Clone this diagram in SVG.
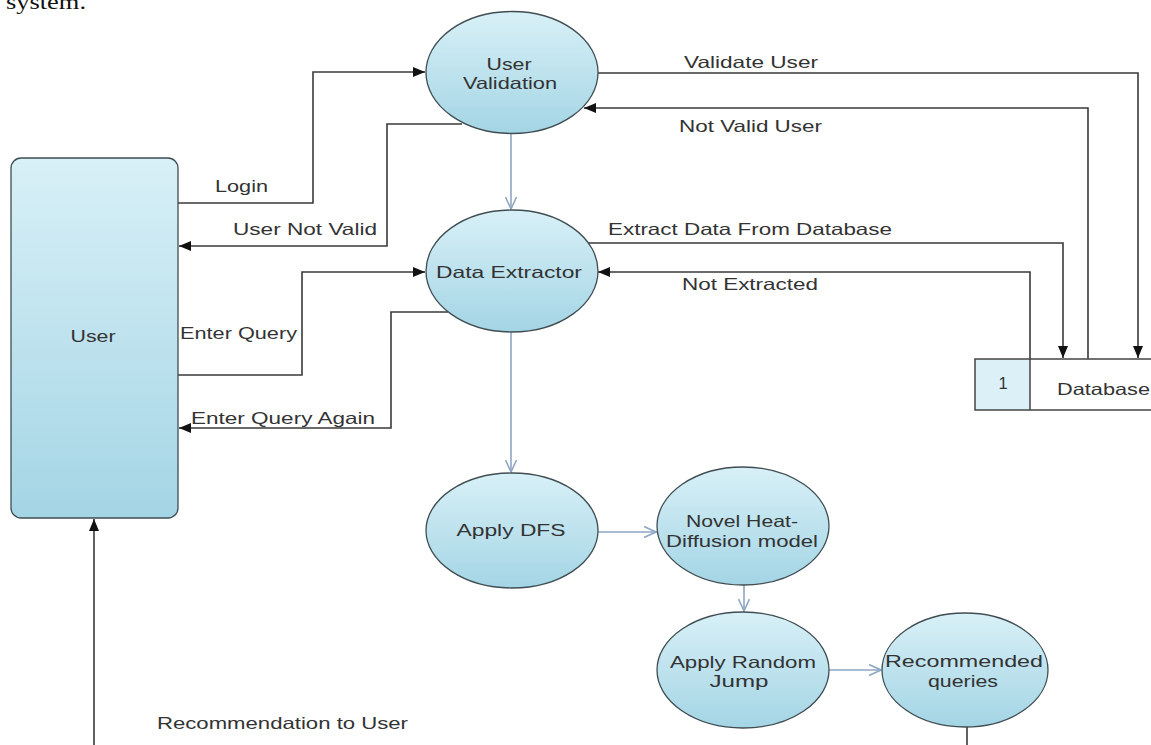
<svg xmlns="http://www.w3.org/2000/svg" width="1151" height="745" viewBox="0 0 1151 745">
  <style>
    .proc { fill: url(#nodeFill); stroke: #3f4d52; stroke-width: 1.3; }
    .lbl { font-family: "Liberation Sans", Arial, sans-serif; font-size: 16.5px; fill: #333; }
    .mid { text-anchor: middle; }
    .flow { fill: none; stroke: #3a3a3a; stroke-width: 1.6; }
    .inner { fill: none; stroke: #8ea6c4; stroke-width: 1.6; }
    .store { fill: none; stroke: #444; stroke-width: 1.5; }
  </style>
  <defs>
    <linearGradient id="nodeFill" x1="0" y1="0" x2="0" y2="1">
      <stop offset="0" stop-color="#d8f0f7"/>
      <stop offset="1" stop-color="#a4d5e5"/>
    </linearGradient>
    <marker id="solid" viewBox="0 0 12 10" refX="12" refY="5" markerWidth="12" markerHeight="10" markerUnits="userSpaceOnUse" orient="auto">
      <path d="M0,0 L12,5 L0,10 Z" fill="#111"/>
    </marker>
    <marker id="open" viewBox="0 0 14 12" refX="13" refY="6" markerWidth="14" markerHeight="12" markerUnits="userSpaceOnUse" orient="auto">
      <path d="M1,0.5 L13,6 L1,11.5" fill="none" stroke="#8ea6c4" stroke-width="1.6"/>
    </marker>
  </defs>

  <rect width="1151" height="745" fill="#fff"/>

  <!-- running text above the figure -->
  <text x="6" y="9" font-family="'Liberation Serif', 'Times New Roman', serif" font-size="20" fill="#111" textLength="80" lengthAdjust="spacingAndGlyphs">system.</text>

  <!-- connectors -->
  <g id="connectors">
    <path class="flow" d="M178,203 H313 V72 H425" marker-end="url(#solid)"/>
    <path class="flow" d="M462,124 H387 V246 H179" marker-end="url(#solid)"/>
    <path class="flow" d="M178,375 H302 V272 H425" marker-end="url(#solid)"/>
    <path class="flow" d="M448,312 H391 V428 H179" marker-end="url(#solid)"/>
    <path class="flow" d="M598,73 H1138 V358" marker-end="url(#solid)"/>
    <path class="flow" d="M1088,359 V108 H584" marker-end="url(#solid)"/>
    <path class="flow" d="M588,243 H1063 V358" marker-end="url(#solid)"/>
    <path class="flow" d="M1030,359 V272 H598" marker-end="url(#solid)"/>
    <path class="flow" d="M94,745 V519" marker-end="url(#solid)"/>
    <path class="flow" d="M967,727 V745"/>

    <path class="inner" d="M511,134 V209" marker-end="url(#open)"/>
    <path class="inner" d="M511,332 V472" marker-end="url(#open)"/>
    <path class="inner" d="M598,532 H656" marker-end="url(#open)"/>
    <path class="inner" d="M744,585 V611" marker-end="url(#open)"/>
    <path class="inner" d="M829,670 H881" marker-end="url(#open)"/>

    <text class="lbl" x="215" y="192" textLength="53" lengthAdjust="spacingAndGlyphs">Login</text>
    <text class="lbl" x="233" y="235" textLength="144" lengthAdjust="spacingAndGlyphs">User Not Valid</text>
    <text class="lbl" x="180" y="339" textLength="117" lengthAdjust="spacingAndGlyphs">Enter Query</text>
    <text class="lbl" x="191" y="424" textLength="184" lengthAdjust="spacingAndGlyphs">Enter Query Again</text>
    <text class="lbl" x="684" y="68" textLength="134" lengthAdjust="spacingAndGlyphs">Validate User</text>
    <text class="lbl" x="679" y="132" textLength="143" lengthAdjust="spacingAndGlyphs">Not Valid User</text>
    <text class="lbl" x="608" y="235" textLength="284" lengthAdjust="spacingAndGlyphs">Extract Data From Database</text>
    <text class="lbl" x="682" y="290" textLength="136" lengthAdjust="spacingAndGlyphs">Not Extracted</text>
    <text class="lbl" x="157" y="729" textLength="251" lengthAdjust="spacingAndGlyphs">Recommendation to User</text>
  </g>

  <!-- external entity -->
  <g id="user">
    <rect x="11" y="158" width="167" height="360" rx="10" ry="10" fill="url(#nodeFill)" stroke="#3f4d52" stroke-width="1.3"/>
    <text class="lbl mid" x="93" y="342" textLength="45" lengthAdjust="spacingAndGlyphs">User</text>
  </g>

  <!-- processes -->
  <g id="user-validation">
    <ellipse class="proc" cx="512" cy="72.5" rx="86" ry="61"/>
    <text class="lbl mid" x="509" y="70" textLength="45" lengthAdjust="spacingAndGlyphs">User</text>
    <text class="lbl mid" x="510" y="89" textLength="94" lengthAdjust="spacingAndGlyphs">Validation</text>
  </g>

  <g id="data-extractor">
    <ellipse class="proc" cx="512" cy="271" rx="86" ry="61"/>
    <text class="lbl mid" x="509" y="278" textLength="146" lengthAdjust="spacingAndGlyphs">Data Extractor</text>
  </g>

  <g id="apply-dfs">
    <ellipse class="proc" cx="512" cy="530.5" rx="86" ry="57.5"/>
    <text class="lbl mid" x="511" y="536" textLength="109" lengthAdjust="spacingAndGlyphs">Apply DFS</text>
  </g>

  <g id="heat-diffusion">
    <ellipse class="proc" cx="743" cy="526" rx="86" ry="59"/>
    <text class="lbl mid" x="742" y="527" textLength="112" lengthAdjust="spacingAndGlyphs">Novel Heat-</text>
    <text class="lbl mid" x="742" y="547" textLength="152" lengthAdjust="spacingAndGlyphs">Diffusion model</text>
  </g>

  <g id="random-jump">
    <ellipse class="proc" cx="743" cy="670" rx="86" ry="58"/>
    <text class="lbl mid" x="743" y="668" textLength="146" lengthAdjust="spacingAndGlyphs">Apply Random</text>
    <text class="lbl mid" x="739" y="687" textLength="59" lengthAdjust="spacingAndGlyphs">Jump</text>
  </g>

  <g id="recommended">
    <ellipse class="proc" cx="965" cy="670" rx="83" ry="57"/>
    <text class="lbl mid" x="964" y="667" textLength="158" lengthAdjust="spacingAndGlyphs">Recommended</text>
    <text class="lbl mid" x="963" y="687" textLength="70" lengthAdjust="spacingAndGlyphs">queries</text>
  </g>

  <!-- data store -->
  <g id="database">
    <rect x="975" y="359" width="55" height="51" fill="#dcf1f7"/>
    <path class="store" d="M1151,359 H975 V410 H1151 M1030,359 V410"/>
    <text class="lbl mid" x="1003" y="389">1</text>
    <text class="lbl" x="1057" y="395" textLength="93" lengthAdjust="spacingAndGlyphs">Database</text>
  </g>
</svg>
